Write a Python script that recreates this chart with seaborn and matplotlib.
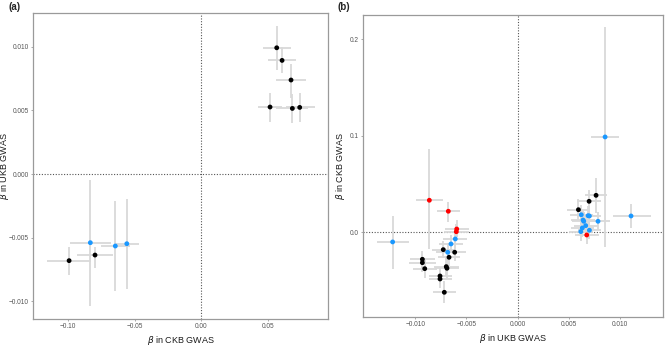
import matplotlib
matplotlib.use("Agg")
import matplotlib.pyplot as plt
import seaborn as sns
import pandas as pd
import numpy as np

# ---------------- Panel (a) data ----------------
a_x = [0.0564, 0.0604, 0.0671, 0.0514, 0.0681, 0.0736,
       -0.0831, -0.0644, -0.0558, -0.0796, -0.0990]
a_y = [0.00991, 0.00892, 0.00738, 0.00526, 0.00515, 0.00523,
       -0.00539, -0.00565, -0.00547, -0.00636, -0.00680]
a_xlo = [0.0460, 0.0497, 0.0559, 0.0427, 0.0560, 0.0630,
         -0.0983, -0.0753, -0.0646, -0.0933, -0.1157]
a_xhi = [0.0669, 0.0709, 0.0784, 0.0601, 0.0800, 0.0851,
         -0.0676, -0.0534, -0.0464, -0.0663, -0.0828]
a_ylo = [0.00816, 0.00790, 0.00600, 0.00411, 0.00400, 0.00410,
         -0.01036, -0.00916, -0.00900, -0.00740, -0.00790]
a_yhi = [0.01162, 0.00995, 0.00863, 0.00638, 0.00630, 0.00640,
         -0.00047, -0.00214, -0.00196, -0.00575, -0.00570]
a_grp = ["black"] * 6 + ["blue"] * 3 + ["black"] * 2

# ---------------- Panel (b) data ----------------
b_x = [0.00852, 0.01105, 0.00764, 0.00696, 0.00592, 0.00620, 0.00686, 0.00699,
       0.00783, 0.00637, 0.00644, 0.00663, 0.00630, 0.00615, 0.00699, 0.00673,
       -0.00862, -0.00677, -0.00595, -0.00599,
       -0.01220, -0.00609, -0.00651, -0.00683,
       -0.00726, -0.00615, -0.00670, -0.00930, -0.00930, -0.00907, -0.00697,
       -0.00690, -0.00758, -0.00758, -0.00716]
b_y = [0.0988, 0.0169, 0.0383, 0.0321, 0.0234, 0.0182, 0.0172, 0.0169,
       0.0114, 0.0127, 0.0114, 0.0069, 0.0045, 0.0007, 0.0021, -0.0028,
       0.0332, 0.0218, 0.0034, 0.0006,
       -0.0100, -0.0069, -0.0121, -0.0207,
       -0.0180, -0.0207, -0.0259, -0.0280, -0.0315, -0.0377, -0.0356,
       -0.0373, -0.0453, -0.0484, -0.0622]
b_xlo = [0.00712, 0.00927, 0.00660, 0.00580, 0.00480, 0.00510, 0.00580, 0.00590,
         0.00670, 0.00520, 0.00530, 0.00550, 0.00520, 0.00500, 0.00590, 0.00560,
         -0.00992, -0.00790, -0.00710, -0.00720,
         -0.01376, -0.00730, -0.00770, -0.00800,
         -0.00840, -0.00730, -0.00780, -0.01050, -0.01060, -0.01020, -0.00820,
         -0.00810, -0.00870, -0.00870, -0.00823]
b_xhi = [0.00989, 0.01298, 0.00870, 0.00810, 0.00700, 0.00730, 0.00790, 0.00810,
         0.00900, 0.00750, 0.00760, 0.00780, 0.00740, 0.00730, 0.00810, 0.00790,
         -0.00732, -0.00560, -0.00480, -0.00480,
         -0.01057, -0.00490, -0.00530, -0.00560,
         -0.00610, -0.00500, -0.00560, -0.00810, -0.00800, -0.00790, -0.00570,
         -0.00570, -0.00640, -0.00640, -0.00602]
b_ylo = [-0.0149, 0.0041, 0.0197, 0.0200, 0.0130, 0.0080, 0.0070, 0.0070,
         0.0020, 0.0030, 0.0020, -0.0030, -0.0050, -0.0090, -0.0070, -0.0120,
         -0.0176, 0.0110, -0.0050, -0.0080,
         -0.0377, -0.0160, -0.0210, -0.0300,
         -0.0270, -0.0300, -0.0350, -0.0370, -0.0410, -0.0470, -0.0450,
         -0.0470, -0.0540, -0.0580, -0.0736]
b_yhi = [0.2124, 0.0294, 0.0560, 0.0440, 0.0340, 0.0280, 0.0270, 0.0270,
         0.0210, 0.0220, 0.0210, 0.0170, 0.0140, 0.0100, 0.0110, 0.0060,
         0.0864, 0.0314, 0.0130, 0.0090,
         0.0169, 0.0020, -0.0030, -0.0110,
         -0.0090, -0.0110, -0.0170, -0.0190, -0.0220, -0.0280, -0.0260,
         -0.0280, -0.0360, -0.0390, -0.0510]
b_grp = (["blue", "blue", "black", "black", "black"] + ["blue"] * 10 + ["red"]
         + ["red"] * 4 + ["blue"] * 4 + ["black"] * 11)

palette = {"black": "#000000", "blue": "#1a98ff", "red": "#ff0000"}

sns.set_style("white")
plt.rcParams["font.family"] = ["Liberation Sans", "DejaVu Sans"]

fig = plt.figure(figsize=(6.67, 3.47), dpi=100)
axA = fig.add_axes([0.0495, 0.0807, 0.4423, 0.8818])
axB = fig.add_axes([0.5447, 0.0873, 0.4498, 0.8695])


def panel(ax, x, y, xlo, xhi, ylo, yhi, grp, xlim, ylim, xticks, xtl, yticks, ytl,
          xlabel, ylabel, vline, ylab_x):
    df = pd.DataFrame(dict(x=x, y=y, xlo=xlo, xhi=xhi, ylo=ylo, yhi=yhi, g=grp))
    ax.axhline(0, color="#555555", lw=0.8, ls=(0, (1, 1.5)), zorder=1)
    ax.axvline(vline, color="#555555", lw=0.8, ls=(0, (1, 1.5)), zorder=1)
    xe = np.vstack([df.x - df.xlo, df.xhi - df.x])
    ye = np.vstack([df.y - df.ylo, df.yhi - df.y])
    ax.errorbar(df.x, df.y, xerr=xe, yerr=ye, fmt="none", ecolor="#d9d9d9",
                elinewidth=1.3, capsize=0, zorder=2)
    sns.scatterplot(data=df, x="x", y="y", hue="g", palette=palette, s=12,
                    linewidth=0, legend=False, ax=ax, zorder=3)
    ax.set_xlim(*xlim)
    ax.set_ylim(*ylim)
    ax.set_xticks(xticks)
    ax.set_xticklabels(xtl)
    ax.set_yticks(yticks)
    ax.set_yticklabels(ytl)
    ax.set_xlabel(xlabel, fontsize=6.5, color="#1a1a1a", labelpad=3)
    ax.set_ylabel(ylabel, fontsize=6.5, color="#1a1a1a")
    ax.yaxis.set_label_coords(ylab_x, 0.5)
    ax.tick_params(axis="both", labelsize=4.7, labelcolor="#555555", length=1.5,
                   width=0.5, color="#888888", pad=1.5, direction="out",
                   bottom=True, left=True)
    for s in ax.spines.values():
        s.set_color("#9a9a9a")
        s.set_linewidth(0.9)


panel(axA, a_x, a_y, a_xlo, a_xhi, a_ylo, a_yhi, a_grp,
      (-0.126, 0.0948), (-0.01138, 0.01264),
      [-0.10, -0.05, 0.0, 0.05], ["\u22120.10", "\u22120.05", "0.00", "0.05"],
      [-0.010, -0.005, 0.0, 0.005, 0.010],
      ["\u22120.010", "\u22120.005", "0.000", "0.005", "0.010"],
      r"$\beta$ in CKB GWAS", r"$\beta$ in UKB GWAS", 0.0, -0.073)

panel(axB, b_x, b_y, b_xlo, b_xhi, b_ylo, b_yhi, b_grp,
      (-0.01506, 0.0142), (-0.0875, 0.2252),
      [-0.010, -0.005, 0.0, 0.005, 0.010],
      ["\u22120.010", "\u22120.005", "0.000", "0.005", "0.010"],
      [0.0, 0.1, 0.2], ["0.0", "0.1", "0.2"],
      r"$\beta$ in UKB GWAS", r"$\beta$ in CKB GWAS", 0.0, -0.056)

fig.text(0.012, 0.993, "(a)", fontsize=7, fontweight="bold", va="top", ha="left")
fig.text(0.506, 0.993, "(b)", fontsize=7, fontweight="bold", va="top", ha="left")

fig.savefig("out.png", dpi=100)
